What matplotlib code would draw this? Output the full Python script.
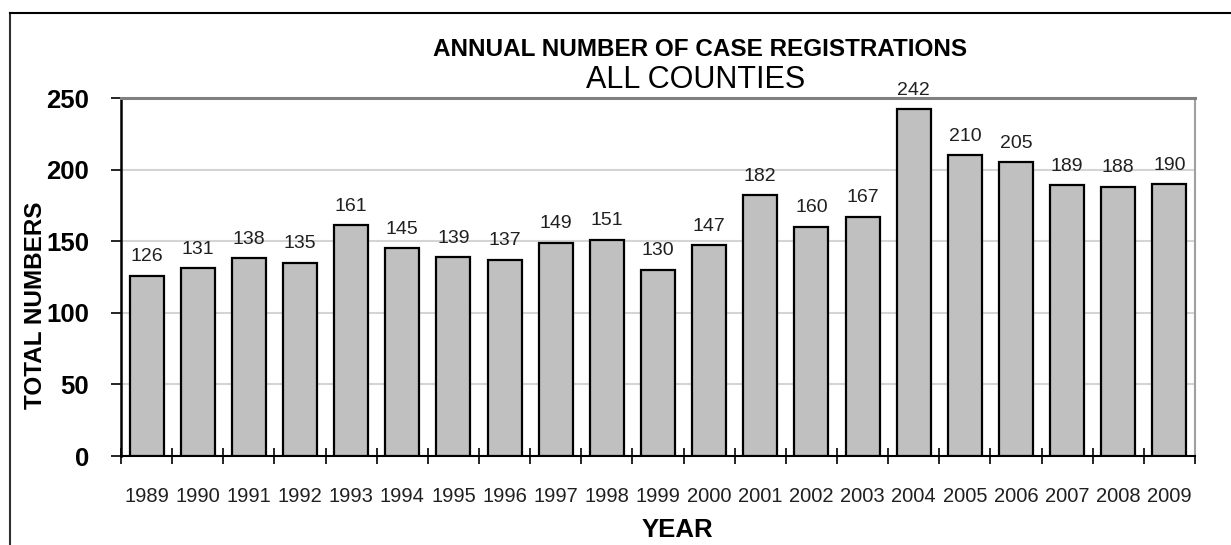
import matplotlib
matplotlib.use("Agg")
import matplotlib.pyplot as plt
from matplotlib.lines import Line2D
import numpy as np

plt.rcParams['font.family'] = ['Liberation Sans', 'DejaVu Sans']

years = ['1989', '1990', '1991', '1992', '1993', '1994', '1995', '1996', '1997', '1998', '1999',
         '2000', '2001', '2002', '2003', '2004', '2005', '2006', '2007', '2008', '2009']
cases = [126, 131, 138, 135, 161, 145, 139, 137, 149, 151, 130,
         147, 182, 160, 167, 242, 210, 205, 189, 188, 190]

W, H = 1231, 545
fig = plt.figure(figsize=(W / 100, H / 100), dpi=100)
ax = fig.add_axes([121 / W, 1 - 456 / H, (1195 - 121) / W, (456 - 98) / H])

x = np.arange(len(years))
ax.bar(x, cases, width=0.667, color='#c0c0c0', edgecolor='black', linewidth=1.6, zorder=3)

for xi, v in zip(x, cases):
    ax.annotate(str(v), (xi, v), xytext=(0, 7.5), textcoords='offset points',
                ha='center', va='bottom', fontsize=14, color='#202020')

ax.set_xlim(-0.5, len(years) - 0.5)
ax.set_ylim(0, 250)
ax.set_yticks([0, 50, 100, 150, 200, 250])
ax.tick_params(axis='y', labelsize=18.5, length=7, width=1.2, direction='out', pad=16)
for lbl in ax.get_yticklabels():
    lbl.set_fontweight('bold')

ax.set_xticks(np.arange(-0.5, len(years), 1.0))
ax.set_xticklabels([])
ax.tick_params(axis='x', which='major', length=12, width=1.2, direction='inout')
ax.set_xticks(x, minor=True)
ax.set_xticklabels(years, minor=True)
ax.tick_params(axis='x', which='minor', length=0, labelsize=14.5, pad=22, labelcolor='#202020')

ax.yaxis.grid(True, color='#d4d4d4', linewidth=1.5, zorder=0)
ax.set_axisbelow(True)

ax.spines['left'].set_color('black')
ax.spines['left'].set_linewidth(1.8)
ax.spines['bottom'].set_color('black')
ax.spines['bottom'].set_linewidth(1.5)
ax.spines['top'].set_color('#808080')
ax.spines['top'].set_linewidth(2.2)
ax.spines['right'].set_color('#a0a0a0')
ax.spines['right'].set_linewidth(1.5)

fig.text(700 / W, 1 - 50 / H, 'ANNUAL NUMBER OF CASE REGISTRATIONS', ha='center', va='center',
         fontsize=17.5, fontweight='bold')
fig.text(696 / W, 1 - 80 / H, 'ALL COUNTIES', ha='center', va='center', fontsize=22)
fig.text(677 / W, 1 - 530 / H, 'YEAR', ha='center', va='center', fontsize=18.5, fontweight='bold')
fig.text(36 / W, 1 - 305 / H, 'TOTAL NUMBERS', ha='center', va='center', rotation=90,
         fontsize=17.5, fontweight='bold')

# outer chart frame (only left and top edges visible)
fig.add_artist(Line2D([10 / W, 10 / W], [0, 1 - 13 / H], color='#303030', linewidth=1.5,
                      transform=fig.transFigure))
fig.add_artist(Line2D([10 / W, 1], [1 - 13 / H, 1 - 13 / H], color='black', linewidth=1.5,
                      transform=fig.transFigure))

fig.savefig('out.png', dpi=100)
